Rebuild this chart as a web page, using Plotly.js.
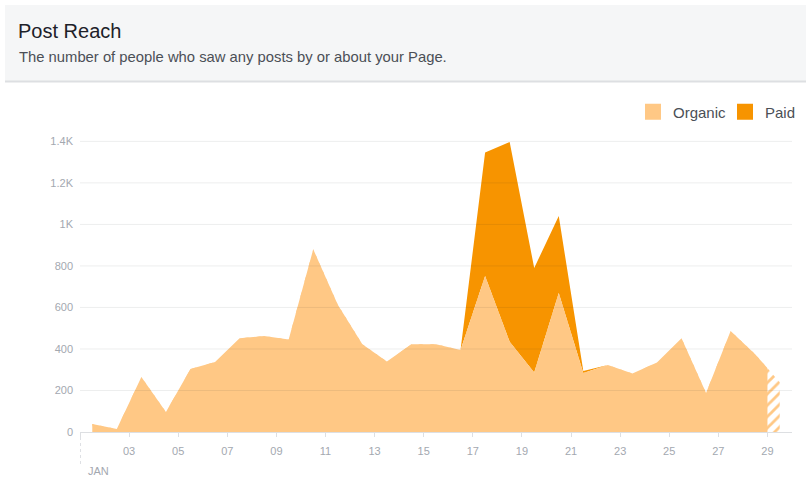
<!DOCTYPE html>
<html>
<head>
<meta charset="utf-8">
<script src="https://cdn.plot.ly/plotly-3.0.1.min.js"></script>
<style>
  html, body { margin: 0; padding: 0; background: #ffffff; }
  #chart { width: 806px; height: 486px; }
</style>
</head>
<body>
<div id="chart"></div>
<script>
// ---- data ----
const days = [1, 2, 3, 4, 5, 6, 7, 8, 9, 10, 11, 12, 13, 14, 15, 16, 17, 18, 19, 20, 21, 22, 23, 24, 25, 26, 27, 28, 29];
const organic = [38, 15, 265, 96, 303, 337, 452, 462, 446, 880, 613, 423, 340, 423, 423, 395, 752, 435, 287, 670, 284, 323, 282, 335, 452, 188, 486, 375, 240];
const paid = [0, 0, 0, 0, 0, 0, 0, 0, 0, 0, 0, 0, 0, 0, 0, 0, 595, 962, 503, 370, 10, 0, 0, 0, 0, 0, 0, 0, 0];
const xTickVals = [1, 3, 5, 7, 9, 11, 13, 15, 17, 19, 21, 23, 25, 27, 29];
const xTickText = ['', '03', '05', '07', '09', '11', '13', '15', '17', '19', '21', '23', '25', '27', '29'];
const yTickVals = [0, 200, 400, 600, 800, 1000, 1200, 1400];
const yTickText = ['0', '200', '400', '600', '800', '1K', '1.2K', '1.4K'];
const seriesNames = ['Organic', 'Paid'];
const monthLabel = 'JAN';
const titleText = 'Post Reach';
const subtitleText = 'The number of people who saw any posts by or about your Page.';

// ---- styling ----
const W = 806, H = 486;
const M = {l: 80, r: 14, t: 131, b: 54};
const PW = W - M.l - M.r, PH = H - M.t - M.b;
const xRange = [1, 30];
const yRange = [0, 1450];
const lastComplete = 29;           // partial day starts here (hatched)
const cOrganic = '#ffc885';
const cPaid = '#f79400';
const FONT = 'Liberation Sans, Arial, Helvetica, sans-serif';
const tickColor = '#a3a8b0';

// pixel -> paper helpers (for decorations only)
const px = v => (v - M.l) / PW;
const py = v => (H - M.b - v) / PH;

const xs = days.map(d => d + 0.5); // each day's value plotted at noon

const traces = [
  { // full organic series, hatched (visible only for the incomplete part)
    x: xs, y: organic, type: 'scatter', mode: 'lines', stackgroup: 'reach',
    line: {width: 0, color: cOrganic}, fillcolor: '#ffffff',
    fillpattern: {shape: '/', fgcolor: cOrganic, bgcolor: '#ffffff', size: 8, solidity: 0.35},
    showlegend: false, hoverinfo: 'skip', xaxis: 'x', yaxis: 'y'
  },
  {
    x: xs, y: paid, type: 'scatter', mode: 'lines', stackgroup: 'reach',
    line: {width: 0, color: cPaid}, fillcolor: cPaid,
    name: seriesNames[1], showlegend: false, xaxis: 'x', yaxis: 'y'
  },
  { // solid organic, clipped at the last complete day by the x2 subplot
    x: xs, y: organic, type: 'scatter', mode: 'lines', fill: 'tozeroy',
    line: {width: 0, color: cOrganic}, fillcolor: cOrganic,
    name: seriesNames[0], showlegend: false, xaxis: 'x2', yaxis: 'y2'
  },
  { // legend swatches
    x: [null], y: [null], type: 'scatter', mode: 'markers', name: seriesNames[0],
    marker: {symbol: 'square', size: 16, color: cOrganic}, legendrank: 1, xaxis: 'x', yaxis: 'y'
  },
  {
    x: [null], y: [null], type: 'scatter', mode: 'markers', name: seriesNames[1],
    marker: {symbol: 'square', size: 16, color: cPaid}, legendrank: 2, xaxis: 'x', yaxis: 'y'
  }
];

const shapes = [
  // header panel
  {type: 'rect', xref: 'paper', yref: 'paper', x0: px(5), x1: px(806), y0: py(81), y1: py(5),
   fillcolor: '#f5f6f7', line: {width: 0}, layer: 'below'},
  {type: 'line', xref: 'paper', yref: 'paper', x0: px(5), x1: px(806), y0: py(81.5), y1: py(81.5),
   line: {color: '#dddfe2', width: 2}, layer: 'below'},
  // month marker dotted line
  {type: 'line', xref: 'x', yref: 'paper', x0: xRange[0], x1: xRange[0], y0: py(437), y1: py(466),
   line: {color: '#bec2c9', width: 1, dash: 'dot'}}
];
// horizontal gridlines drawn above the areas (as in the reference)
yTickVals.forEach(v => {
  if (v === 0) return;
  shapes.push({type: 'line', xref: 'paper', yref: 'y', x0: 0, x1: 1, y0: v, y1: v,
    line: {color: 'rgba(29,33,41,0.08)', width: 1}, layer: 'above'});
});

const layout = {
  width: W, height: H,
  margin: Object.assign({autoexpand: false}, M),
  paper_bgcolor: '#ffffff', plot_bgcolor: 'rgba(0,0,0,0)',
  font: {family: FONT, color: '#4b4f56'},
  title: {text: titleText, xref: 'container', yref: 'container', x: 18 / W, xanchor: 'left',
          y: 1 - 31 / H, yanchor: 'middle', font: {family: FONT, size: 20, color: '#1d2129'}},
  showlegend: true,
  legend: {orientation: 'h', xref: 'container', x: 633 / W, xanchor: 'left',
           yref: 'container', y: 1 - 112 / H, yanchor: 'middle',
           font: {family: FONT, size: 15, color: '#4b4f56'}, bgcolor: 'rgba(0,0,0,0)',
           itemwidth: 30, entrywidth: 47, entrywidthmode: 'pixels', traceorder: 'normal'},
  xaxis: {domain: [0, 1], range: xRange, tickvals: xTickVals, ticktext: xTickText,
          ticks: 'outside', ticklen: 4, tickcolor: '#dddfe2', showline: true, linecolor: '#dddfe2',
          showgrid: false, zeroline: false, ticklabelstandoff: 5,
          tickfont: {family: FONT, size: 11, color: tickColor}, fixedrange: true},
  yaxis: {domain: [0, 1], range: yRange, tickvals: yTickVals, ticktext: yTickText,
          ticks: '', showgrid: false, zeroline: false, showline: false, ticklabelstandoff: 6,
          tickfont: {family: FONT, size: 11, color: tickColor}, fixedrange: true},
  xaxis2: {domain: [0, (lastComplete - xRange[0]) / (xRange[1] - xRange[0])],
           range: [xRange[0], lastComplete], anchor: 'y2', visible: false, fixedrange: true},
  yaxis2: {domain: [0, 1], range: yRange, anchor: 'x2', visible: false, fixedrange: true},
  shapes: shapes,
  annotations: [
    {text: subtitleText, xref: 'paper', yref: 'paper', x: px(17), y: py(57),
     xanchor: 'left', yanchor: 'middle', showarrow: false,
     font: {family: FONT, size: 14.8, color: '#4b4f56'}},
    {text: monthLabel, xref: 'x', yref: 'paper', x: xRange[0], xshift: 6, y: py(471),
     xanchor: 'left', yanchor: 'middle', showarrow: false,
     font: {family: FONT, size: 11, color: tickColor}}
  ]
};

Plotly.newPlot('chart', traces, layout, {displayModeBar: false, staticPlot: true});
</script>
</body>
</html>
